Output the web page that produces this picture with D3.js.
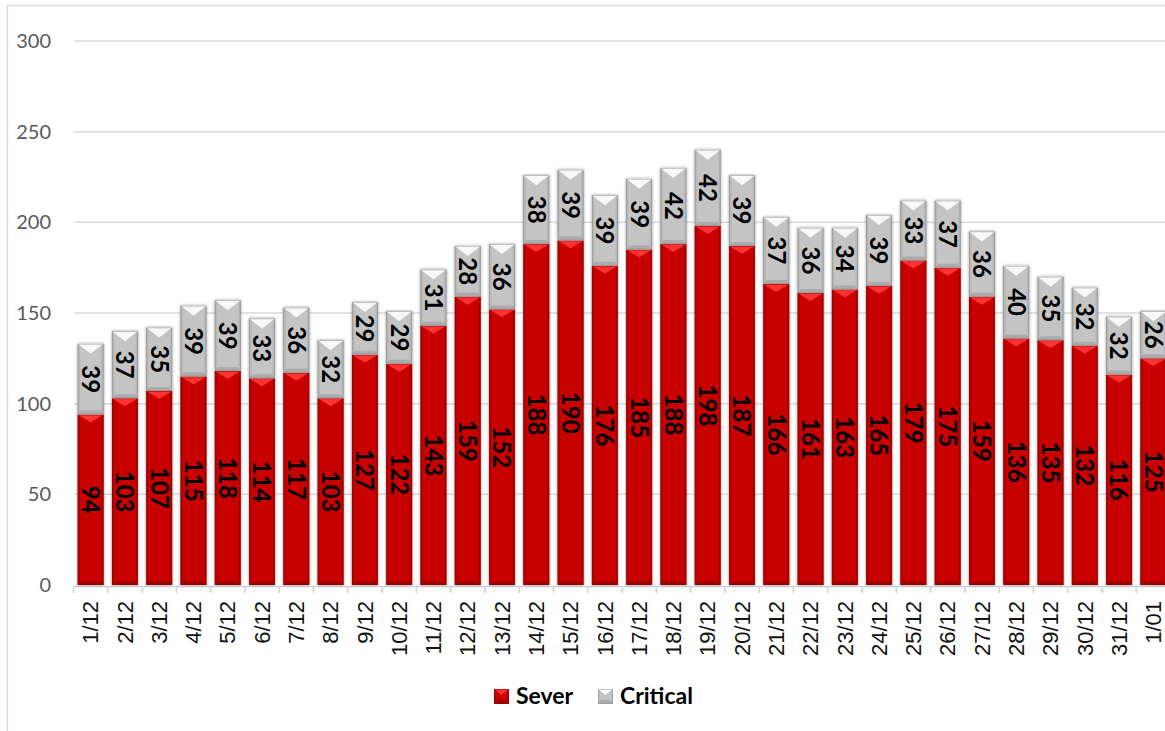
<!DOCTYPE html>
<html>
<head>
<meta charset="utf-8">
<script src="https://cdn.jsdelivr.net/npm/d3@7"></script>
<style>
  html, body { margin: 0; padding: 0; background: #fff; }
  svg { display: block; }
</style>
</head>
<body>
<svg id="chart" width="1165" height="731"></svg>
<script>
const categories = ["1/12","2/12","3/12","4/12","5/12","6/12","7/12","8/12","9/12","10/12","11/12","12/12","13/12","14/12","15/12","16/12","17/12","18/12","19/12","20/12","21/12","22/12","23/12","24/12","25/12","26/12","27/12","28/12","29/12","30/12","31/12","1/01"];
const sever = [94,103,107,115,118,114,117,103,127,122,143,159,152,188,190,176,185,188,198,187,166,161,163,165,179,175,159,136,135,132,116,125];
const critical = [39,37,35,39,39,33,36,32,29,29,31,28,36,38,39,39,39,42,42,39,37,36,34,39,33,37,36,40,35,32,32,26];
const seriesNames = ["Sever","Critical"];
const yTicks = [0,50,100,150,200,250,300];

const svg = d3.select("#chart");

// chart frame
svg.append("rect").attr("x",7.5).attr("y",5.5).attr("width",1200).attr("height",800)
  .attr("fill","#fff").attr("stroke","#d9d9d9").attr("stroke-width",1.5);

const x = d3.scaleBand().domain(categories).range([73.5, 1170.5]).paddingInner(0.243).paddingOuter(0.1215);
const y = d3.scaleLinear().domain([0,300]).range([585,41]);

const styles = {
  Sever:    {base:"#c80000", top:"#ff3030", side:"#a00000", bottom:"#9a0000", edge:"#8a0000"},
  Critical: {base:"#c4c4c4", top:"#f8f8f8", side:"#aaaaaa", bottom:"#a5a5a5", edge:"#8a8a8a"}
};

const defs = svg.append("defs");
const f = defs.append("filter").attr("id","shadow").attr("x","-30%").attr("y","-10%").attr("width","160%").attr("height","120%");
f.append("feGaussianBlur").attr("in","SourceAlpha").attr("stdDeviation",1.8).attr("result","b");
f.append("feOffset").attr("in","b").attr("dx",0).attr("dy",0).attr("result","o");
f.append("feComponentTransfer").attr("in","o").attr("result","s")
  .append("feFuncA").attr("type","linear").attr("slope",0.4);
const m = f.append("feMerge");
m.append("feMergeNode").attr("in","s");
m.append("feMergeNode").attr("in","SourceGraphic");

Object.entries(styles).forEach(([k,s])=>{
  const g = defs.append("linearGradient").attr("id","g"+k).attr("x1","0").attr("x2","1").attr("y1","0").attr("y2","0");
  g.append("stop").attr("offset","0").attr("stop-color",s.side);
  g.append("stop").attr("offset","0.12").attr("stop-color",s.base);
  g.append("stop").attr("offset","0.88").attr("stop-color",s.base);
  g.append("stop").attr("offset","1").attr("stop-color",s.side);
});

// gridlines
svg.append("g").selectAll("line").data(yTicks.filter(d=>d>0)).join("line")
  .attr("x1",74).attr("x2",1165).attr("y1",d=>y(d)).attr("y2",d=>y(d))
  .attr("stroke","#d9d9d9").attr("stroke-width",1.5);

// y labels
svg.append("g").selectAll("text").data(yTicks).join("text")
  .attr("x",51).attr("y",d=>y(d)).attr("dy","0.35em").attr("text-anchor","end")
  .attr("font-family","Lato, 'Open Sans', sans-serif").attr("font-size",20).attr("fill","#595959")
  .text(d=>d);

// x axis line and ticks
svg.append("line").attr("x1",73.5).attr("x2",1172).attr("y1",586.5).attr("y2",586.5)
  .attr("stroke","#d0d0d0").attr("stroke-width",1.5);
const step = x.step();
const boundaries = categories.map((c,i)=>x.range()[0]+i*step).concat([x.range()[0]+categories.length*step]);
svg.append("g").selectAll("line").data(boundaries).join("line")
  .attr("x1",d=>d).attr("x2",d=>d).attr("y1",586).attr("y2",593)
  .attr("stroke","#d0d0d0").attr("stroke-width",1.5);

// x labels
svg.append("g").selectAll("text").data(categories).join("text")
  .attr("transform",d=>`translate(${x(d)+x.bandwidth()/2},601) rotate(-90)`)
  .attr("dy","0.35em").attr("text-anchor","end")
  .attr("font-family","'Liberation Sans', Arial, sans-serif").attr("font-size",22).attr("fill","#111")
  .text(d=>d);

const rows = categories.map((c,i)=>({cat:c, Sever:sever[i], Critical:critical[i]}));
const stack = d3.stack().keys(seriesNames)(rows);

function drawBevelBar(g, x0, w, yTop, yBot, s, bevelTop){
  const x1 = x0 + w, xm = x0 + w/2;
  g.append("rect").attr("x",x0).attr("y",yTop).attr("width",w).attr("height",yBot-yTop)
    .attr("fill",`url(#g${s.key})`);
  const bt = Math.min(bevelTop, (yBot-yTop)/2);
  g.append("path").attr("d",`M${x0},${yTop}L${x1},${yTop}L${xm},${yTop+bt}Z`).attr("fill",s.top);
  const bb = Math.min(4,(yBot-yTop)/3);
  g.append("path").attr("d",`M${x0},${yBot}L${x1},${yBot}L${x1-3},${yBot-bb}L${x0+3},${yBot-bb}Z`).attr("fill",s.bottom).attr("opacity",0.8);
  g.append("rect").attr("x",x0+0.4).attr("y",yTop+0.4).attr("width",w-0.8).attr("height",yBot-yTop-0.8)
    .attr("fill","none").attr("stroke",s.edge).attr("stroke-width",0.8).attr("opacity",0.6);
}

const barsG = svg.append("g");
rows.forEach((r,i)=>{
  const g = barsG.append("g").attr("filter","url(#shadow)");
  stack.forEach(layer=>{
    const d = layer[i];
    const s = Object.assign({key:layer.key}, styles[layer.key]);
    drawBevelBar(g, x(r.cat), x.bandwidth(), y(d[1]), y(d[0]), s, layer.key==="Critical"?10:8);
  });
});

// data labels
const labG = svg.append("g");
stack.forEach(layer=>{
  labG.selectAll(null).data(layer).join("text")
    .attr("transform",(d,i)=>`translate(${x(categories[i])+x.bandwidth()/2},${y((d[0]+d[1])/2)}) rotate(90)`)
    .attr("text-anchor","middle").attr("dy","0.36em")
    .attr("font-family","Lato, 'Open Sans', sans-serif").attr("font-weight","bold").attr("font-size",24).attr("fill","#000")
    .text(d=>d[1]-d[0]);
});

// legend
const legend = svg.append("g");
const legendItems = [{key:"Sever", x:494, tx:516},{key:"Critical", x:598, tx:620}];
legendItems.forEach(it=>{
  const s = Object.assign({key:it.key}, styles[it.key]);
  const g = legend.append("g");
  drawBevelBar(g, it.x, 15, 689, 704, s, 6);
  legend.append("text").attr("x",it.tx).attr("y",704)
    .attr("font-family","Lato, 'Open Sans', sans-serif").attr("font-weight","bold").attr("font-size",23).attr("fill","#000")
    .text(it.key);
});
</script>
</body>
</html>
